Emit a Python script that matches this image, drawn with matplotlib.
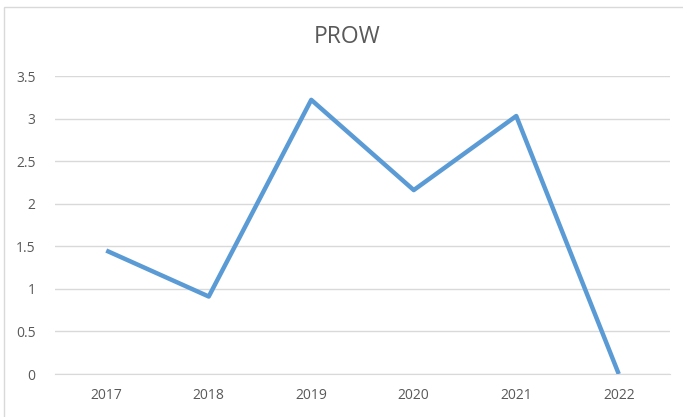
import matplotlib.pyplot as plt
from matplotlib.patches import Rectangle

years = ['2017', '2018', '2019', '2020', '2021', '2022']
prow = [1.45, 0.91, 3.22, 2.16, 3.03, 0.0]

fig = plt.figure(figsize=(6.83, 4.17), dpi=100)
ax = fig.add_axes([55 / 683, 1 - 374 / 417, 615 / 683, 298 / 417])

x = list(range(len(years)))
ax.plot(x, prow, color='#5b9bd5', linewidth=3.2, solid_capstyle='butt', zorder=3)

ax.set_xlim(-0.5, len(years) - 0.5)
ax.set_ylim(0, 3.5)
ax.set_yticks([0, 0.5, 1, 1.5, 2, 2.5, 3, 3.5])
ax.set_yticklabels(['0', '0.5', '1', '1.5', '2', '2.5', '3', '3.5'])
ax.set_xticks(x)
ax.set_xticklabels(years)
ax.grid(axis='y', color='#d9d9d9', linewidth=1)
ax.set_axisbelow(True)
for s in ['top', 'right', 'left']:
    ax.spines[s].set_visible(False)
ax.spines['bottom'].set_color('#d9d9d9')
ax.tick_params(length=0, colors='#595959', labelsize=10)
ax.tick_params(axis='y', pad=14)
ax.tick_params(axis='x', pad=10)
for lab in ax.get_xticklabels() + ax.get_yticklabels():
    lab.set_fontfamily('Open Sans')

fig.text(347 / 683, 1 - 37 / 417, 'PROW', ha='center', va='center',
         fontsize=16.5, color='#595959', family='Open Sans')

# chart area border (cropped at right/bottom)
fig.patches.append(Rectangle((4 / 683, -0.05), 1.1, 1 - 7 / 417 + 0.05,
                             transform=fig.transFigure, fill=False,
                             edgecolor='#d9d9d9', linewidth=1))

fig.savefig('out.png', dpi=100)
